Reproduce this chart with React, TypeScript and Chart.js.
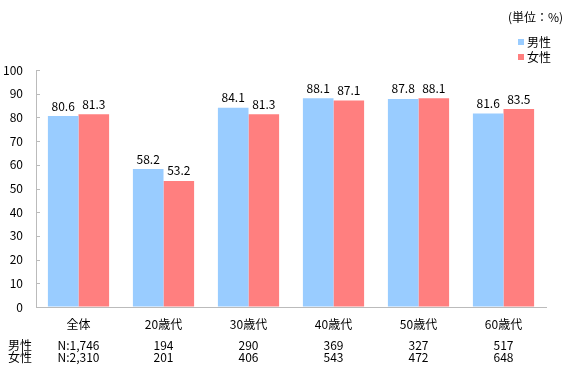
import React, { useEffect, useRef } from "react";
import { Chart, registerables } from "chart.js";

Chart.register(...registerables);

const categories = ["全体", "20歳代", "30歳代", "40歳代", "50歳代", "60歳代"];
const maleValues = [80.6, 58.2, 84.1, 88.1, 87.8, 81.6];
const femaleValues = [81.3, 53.2, 81.3, 87.1, 88.1, 83.5];
const maleN = ["N:1,746", "194", "290", "369", "327", "517"];
const femaleN = ["N:2,310", "201", "406", "543", "472", "648"];
const seriesNames = ["男性", "女性"];
const unitLabel = "(単位：%)";
const yTicks = [0, 10, 20, 30, 40, 50, 60, 70, 80, 90, 100];

const FONT = '"Noto Sans CJK JP", "Noto Sans", sans-serif';
const BLUE = "#99CCFF";
const RED = "#FF7F7F";
const AXIS = "#BBBBBB";

const overlayPlugin = {
  id: "overlay",
  afterDatasetsDraw(chart: any) {
    const ctx = chart.ctx;
    ctx.save();
    const ys = chart.scales.y;
    const left = chart.chartArea.left;
    ctx.strokeStyle = AXIS;
    ctx.lineWidth = 1;
    yTicks.forEach((v) => {
      const y = Math.round(ys.getPixelForValue(v)) + 0.5;
      ctx.beginPath();
      ctx.moveTo(left, y);
      ctx.lineTo(left + 4, y);
      ctx.stroke();
    });
    ctx.fillStyle = "#000";
    ctx.font = `12px ${FONT}`;
    ctx.textAlign = "center";
    ctx.textBaseline = "bottom";
    chart.data.datasets.forEach((ds: any, di: number) => {
      const meta = chart.getDatasetMeta(di);
      meta.data.forEach((bar: any, i: number) => {
        ctx.fillText(ds.data[i].toFixed(1), bar.x, bar.y - 4);
      });
    });
    const xs = chart.scales.x;
    ctx.textBaseline = "middle";
    categories.forEach((c, i) => {
      const x = xs.getPixelForValue(i);
      ctx.font = `12px ${FONT}`;
      ctx.fillText(c, x, 324);
      ctx.fillText(maleN[i], x, 345);
      ctx.fillText(femaleN[i], x, 357);
    });
    ctx.font = `12px ${FONT}`;
    ctx.textAlign = "left";
    ctx.fillText(seriesNames[0], 8, 345);
    ctx.fillText(seriesNames[1], 8, 357);
    ctx.fillText(unitLabel, 508, 17);
    const colors = [BLUE, RED];
    seriesNames.forEach((n, i) => {
      const y = 42 + i * 15;
      ctx.fillStyle = colors[i];
      ctx.fillRect(518, y - 3, 6, 6);
      ctx.fillStyle = "#000";
      ctx.fillText(n, 527, y);
    });
    ctx.restore();
  },
};

export default function App() {
  const ref = useRef<HTMLCanvasElement>(null);
  useEffect(() => {
    if (!ref.current) return;
    const chart = new Chart(ref.current, {
      type: "bar",
      data: {
        labels: categories,
        datasets: [
          { label: seriesNames[0], data: maleValues, backgroundColor: BLUE },
          { label: seriesNames[1], data: femaleValues, backgroundColor: RED },
        ],
      },
      options: {
        animation: false,
        responsive: false,
        maintainAspectRatio: false,
        layout: { padding: { top: 70, right: 20, bottom: 69, left: 0 } },
        plugins: { legend: { display: false }, tooltip: { enabled: false } },
        datasets: { bar: { categoryPercentage: 0.72, barPercentage: 1 } },
        scales: {
          x: {
            grid: { display: false },
            border: { display: true, color: AXIS },
            ticks: { display: false },
          },
          y: {
            min: 0,
            max: 100,
            afterBuildTicks(scale: any) {
              scale.ticks = yTicks.map((v) => ({ value: v }));
            },
            afterFit(scale: any) {
              scale.width = 36;
            },
            grid: { drawOnChartArea: false, drawTicks: false },
            border: { display: true, color: AXIS },
            ticks: { color: "#000", font: { family: FONT, size: 12 }, padding: 13 },
          },
        },
      },
      plugins: [overlayPlugin],
    } as any);
    return () => chart.destroy();
  }, []);
  return (
    <div style={{ position: "absolute", left: 0, top: 0, width: 566, height: 384, background: "#fff" }}>
      <canvas ref={ref} width={566} height={384} />
    </div>
  );
}
